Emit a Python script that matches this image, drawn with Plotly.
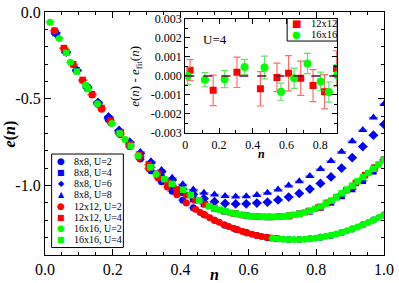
import plotly.graph_objects as go

# ---------------- data ----------------
# 8x8 lattice
n_8x8 = [0.03125, 0.0625, 0.09375, 0.125, 0.15625, 0.1875, 0.21875, 0.25,
         0.28125, 0.3125, 0.34375, 0.375, 0.40625, 0.4375, 0.46875, 0.5,
         0.53125, 0.5625, 0.59375, 0.625, 0.65625, 0.6875, 0.71875, 0.75,
         0.78125, 0.8125, 0.84375, 0.875, 0.90625, 0.9375, 0.96875, 1.0]
e_8x8_U2 = [-0.121, -0.233, -0.339, -0.438, -0.532, -0.620, -0.700, -0.775,
            -0.847, -0.915, -0.978, -1.033, -1.084, -1.128, -1.166, -1.200,
            -1.228, -1.252, -1.271, -1.287, -1.299, -1.306, -1.310, -1.311,
            -1.306, -1.298, -1.287, -1.270, -1.250, -1.225, -1.198, -1.170]
e_8x8_U4 = [-0.121, -0.232, -0.337, -0.435, -0.527, -0.613, -0.692, -0.765,
            -0.833, -0.895, -0.953, -1.000, -1.042, -1.078, -1.106, -1.130,
            -1.148, -1.162, -1.172, -1.178, -1.181, -1.180, -1.176, -1.163,
            -1.148, -1.126, -1.097, -1.060, -1.020, -0.972, -0.918, -0.852]
e_8x8_U6 = [-0.121, -0.231, -0.335, -0.432, -0.522, -0.606, -0.683, -0.752,
            -0.815, -0.868, -0.920, -0.968, -1.020, -1.050, -1.075, -1.093,
            -1.103, -1.106, -1.105, -1.101, -1.096, -1.083, -1.066, -1.045,
            -1.020, -0.988, -0.950, -0.900, -0.839, -0.775, -0.710, -0.648]
e_8x8_U8 = [-0.121, -0.231, -0.334, -0.430, -0.519, -0.602, -0.678, -0.745,
            -0.806, -0.860, -0.910, -0.955, -0.993, -1.022, -1.042, -1.052,
            -1.060, -1.063, -1.062, -1.055, -1.042, -1.023, -1.000, -0.975,
            -0.945, -0.905, -0.858, -0.805, -0.745, -0.680, -0.608, -0.530]

# 12x12 lattice
n_12_U2 = [0.028, 0.056, 0.083, 0.111, 0.139, 0.167, 0.194, 0.222, 0.250,
           0.278, 0.306, 0.333, 0.361, 0.389, 0.417, 0.444, 0.458, 0.472,
           0.486, 0.500, 0.514, 0.528, 0.542, 0.556, 0.569, 0.583, 0.597,
           0.611, 0.625, 0.639, 0.653, 0.667, 0.681]
e_12_U2 = [-0.108, -0.209, -0.303, -0.394, -0.478, -0.560, -0.638, -0.707, -0.775,
           -0.840, -0.902, -0.955, -1.008, -1.053, -1.100, -1.137, -1.155, -1.170,
           -1.186, -1.200, -1.212, -1.225, -1.236, -1.246, -1.255, -1.264, -1.273,
           -1.281, -1.287, -1.293, -1.298, -1.302, -1.305]
n_12_U4 = [0.028, 0.056, 0.083, 0.111, 0.139, 0.167, 0.194, 0.222, 0.250,
           0.278, 0.306, 0.333, 0.361, 0.389, 0.417, 0.444, 0.472, 0.500,
           0.528, 0.556, 0.583, 0.611, 0.639, 0.667, 0.694, 0.722, 0.750,
           0.778, 0.806, 0.833, 0.861, 0.889, 0.917, 0.944, 0.972, 1.000]
e_12_U4 = [-0.108, -0.208, -0.301, -0.391, -0.474, -0.553, -0.626, -0.695, -0.762,
           -0.823, -0.880, -0.932, -0.980, -1.022, -1.055, -1.085, -1.108, -1.130,
           -1.147, -1.160, -1.170, -1.177, -1.180, -1.181, -1.179, -1.172, -1.163,
           -1.147, -1.127, -1.099, -1.066, -1.027, -0.985, -0.940, -0.896, -0.852]

# 16x16 lattice
n_16_U2 = [0.0146, 0.042, 0.075, 0.120, 0.155, 0.197, 0.236, 0.275, 0.328,
           0.672, 0.688, 0.703, 0.719, 0.734, 0.750, 0.766, 0.781, 0.797,
           0.813, 0.828, 0.844, 0.859, 0.875, 0.891, 0.906, 0.922, 0.938,
           0.953, 0.969, 0.984, 1.000]
e_16_U2 = [-0.059, -0.152, -0.290, -0.420, -0.528, -0.643, -0.735, -0.828, -0.935,
           -1.303, -1.307, -1.309, -1.310, -1.311, -1.311, -1.309, -1.306, -1.303,
           -1.298, -1.292, -1.286, -1.279, -1.270, -1.261, -1.250, -1.238, -1.225,
           -1.213, -1.198, -1.184, -1.170]
n_16_U4 = [0.063, 0.094, 0.126, 0.220, 0.253, 0.311, 0.352, 0.374, 0.408,
           0.430, 0.455,
           0.484, 0.500, 0.516, 0.531, 0.547, 0.563, 0.578, 0.594, 0.609,
           0.625, 0.641, 0.656, 0.672, 0.688, 0.703, 0.719, 0.734, 0.750,
           0.766, 0.781, 0.797, 0.813, 0.828, 0.844, 0.859, 0.875, 0.891,
           0.906, 0.922, 0.938, 0.953, 0.969, 0.984, 1.000]
e_16_U4 = [-0.235, -0.343, -0.444, -0.700, -0.772, -0.894, -0.963, -0.990, -1.024,
           -1.055, -1.085,
           -1.118, -1.130, -1.139, -1.148, -1.156, -1.162, -1.168, -1.173, -1.176,
           -1.178, -1.180, -1.181, -1.181, -1.180, -1.178, -1.173, -1.168, -1.163,
           -1.155, -1.145, -1.134, -1.120, -1.104, -1.087, -1.068, -1.045, -1.023,
           -1.001, -0.976, -0.952, -0.928, -0.903, -0.878, -0.852]

# inset: deviation from fit, U=4
n_in_12 = [0.028, 0.165, 0.306, 0.445, 0.543, 0.612, 0.684, 0.757, 0.825, 0.896]
d_in_12 = [0.00030, -0.00076, 0.00019, -0.00068, -0.00008, 0.00014, -0.00012,
           -0.00051, -0.00083, 0.00039]
s_in_12 = [0.00055, 0.00080, 0.00080, 0.00090, 0.00075, 0.00093, 0.00090,
           0.00084, 0.00090, 0.00093]
n_in_16 = [0.014, 0.116, 0.233, 0.351, 0.469, 0.567, 0.645, 0.724, 0.802, 0.851, 0.900]
d_in_16 = [0.00000, -0.00020, -0.00017, 0.00047, 0.00044, -0.00083, -0.00012,
           0.00065, -0.00029, -0.00085, 0.00005]
s_in_16 = [0.00045, 0.00037, 0.00045, 0.00040, 0.00060, 0.00045, 0.00053,
           0.00053, 0.00049, 0.00053, 0.00055]

main_x_ticks = [0.0, 0.2, 0.4, 0.6, 0.8, 1.0]
main_x_text = ["0.0", "0.2", "0.4", "0.6", "0.8", "1.0"]
main_y_ticks = [0.0, -0.5, -1.0]
main_y_text = ["0.0", "-0.5", "-1.0"]
in_x_ticks = [0.0, 0.2, 0.4, 0.6, 0.8]
in_x_text = ["0", "0.2", "0.4", "0.6", "0.8"]
in_y_ticks = [0.003, 0.002, 0.001, 0.0, -0.001, -0.002, -0.003]
in_y_text = ["0.003", "0.002", "0.001", "0.000", "-0.001", "-0.002", "-0.003"]

legend_main = ["8x8, U=2", "8x8, U=4", "8x8, U=6", "8x8, U=8",
               "12x12, U=2", "12x12, U=4", "16x16, U=2", "16x16, U=4"]
legend_inset = ["12x12", "16x16"]

# ---------------- layout helpers ----------------
W, H = 399, 283
ML, MR, MT, MB = 45, 11, 5, 27
PW = W - ML - MR
PH = H - MT - MB


def px(x):
    return (x - ML) / PW


def py(y):
    return 1 - (y - MT) / PH


SERIF = "Liberation Serif"
BLUE, RED, GREEN = "#0000ff", "#ff0000", "#00ff00"
BLUE_E, RED_E, GREEN_E = "rgba(0,0,255,0.5)", "rgba(255,0,0,0.5)", "rgba(0,200,0,0.5)"
MAROON = "#670748"

fig = go.Figure()


def add_main(n, e, color, ecolor, symbol, size):
    fig.add_trace(go.Scatter(
        x=n, y=e, mode="markers", showlegend=False,
        marker=dict(color=color, symbol=symbol, size=size, line=dict(width=0)),
        error_x=dict(type="constant", value=0.014, color=ecolor, thickness=1.3, width=0),
        error_y=dict(type="constant", value=0.012, color=ecolor, thickness=1.3, width=0),
        xaxis="x", yaxis="y"))


add_main(n_8x8, e_8x8_U2, BLUE, BLUE_E, "circle", 7)
add_main(n_8x8, e_8x8_U4, BLUE, BLUE_E, "square", 6.5)
add_main(n_8x8, e_8x8_U6, BLUE, BLUE_E, "diamond", 7.5)
add_main(n_8x8, e_8x8_U8, BLUE, BLUE_E, "triangle-up", 8)
add_main(n_12_U2, e_12_U2, RED, RED_E, "circle", 7)
add_main(n_12_U4, e_12_U4, RED, RED_E, "square", 6.5)
add_main(n_16_U2, e_16_U2, GREEN, GREEN_E, "circle", 7)
add_main(n_16_U4, e_16_U4, GREEN, GREEN_E, "square", 6.5)

fig.add_trace(go.Scatter(
    x=n_in_12, y=d_in_12, mode="markers", showlegend=False,
    marker=dict(color=RED, symbol="square", size=7, line=dict(width=0)),
    error_y=dict(type="data", array=s_in_12, color="rgba(255,60,60,0.75)", thickness=1.2, width=3.5),
    xaxis="x2", yaxis="y2"))
fig.add_trace(go.Scatter(
    x=n_in_16, y=d_in_16, mode="markers", showlegend=False,
    marker=dict(color=GREEN, symbol="circle", size=8, line=dict(width=0)),
    error_y=dict(type="data", array=s_in_16, color="rgba(60,220,60,0.8)", thickness=1.2, width=3.5),
    xaxis="x2", yaxis="y2"))

axis_common = dict(showline=True, linecolor="black", linewidth=1.3, mirror="ticks",
                   ticks="inside", tickcolor="black", showgrid=False, zeroline=False)

fig.update_layout(
    width=W, height=H,
    margin=dict(l=ML, r=MR, t=MT, b=MB, pad=0),
    plot_bgcolor="white", paper_bgcolor="white",
    font=dict(family=SERIF, color="black"),
    showlegend=False,
    xaxis=dict(domain=[0, 1], range=[0, 1], anchor="y",
               tickmode="array", tickvals=main_x_ticks, ticktext=main_x_text,
               ticklen=6, tickwidth=1.2, tickfont=dict(size=16, family=SERIF),
               minor=dict(tickmode="linear", tick0=0, dtick=0.05, ticks="inside",
                          ticklen=3, tickcolor="black", tickwidth=1),
               **axis_common),
    yaxis=dict(domain=[0, 1], range=[-1.4, 0], anchor="x",
               tickmode="array", tickvals=main_y_ticks, ticktext=main_y_text,
               ticklen=6, tickwidth=1.2, tickfont=dict(size=16, family=SERIF),
               minor=dict(tickmode="linear", tick0=0, dtick=0.1, ticks="inside",
                          ticklen=3, tickcolor="black", tickwidth=1),
               **axis_common),
    xaxis2=dict(domain=[px(187), px(340.6)], range=[0, 0.9], anchor="y2",
                tickmode="array", tickvals=in_x_ticks, ticktext=in_x_text,
                ticklen=5, tickwidth=1, tickfont=dict(size=12, family=SERIF),
                minor=dict(tickmode="linear", tick0=0, dtick=0.1, ticks="inside",
                           ticklen=3, tickcolor="black", tickwidth=1),
                **axis_common),
    yaxis2=dict(domain=[py(130), py(12)], range=[-0.003, 0.003], anchor="x2",
                tickmode="array", tickvals=in_y_ticks, ticktext=in_y_text,
                ticklen=5, tickwidth=1, tickfont=dict(size=12, family=SERIF),
                minor=dict(tickmode="linear", tick0=0, dtick=0.0005, ticks="inside",
                           ticklen=3, tickcolor="black", tickwidth=1),
                **axis_common),
)

shapes = [
    # zero line in inset
    dict(type="line", xref="x2 domain", yref="y2", x0=0, x1=1, y0=0, y1=0,
         line=dict(color=MAROON, width=1.5, dash="dash")),
    # main legend box
    dict(type="rect", xref="paper", yref="paper",
         x0=px(51.7), x1=px(124.3), y0=py(248.3), y1=py(151.7),
         line=dict(color="black", width=1), fillcolor="white", layer="above"),
    # inset legend box
    dict(type="rect", xref="paper", yref="paper",
         x0=px(290), x1=px(340.6), y0=py(35), y1=py(11.7),
         line=dict(color="black", width=1), fillcolor="white", layer="above"),
]
fig.update_layout(shapes=shapes)

ann = []


def add_text(text, x, y, size, xanchor="center", angle=0, family=SERIF, color="black"):
    ann.append(dict(text=text, x=px(x), y=py(y), xref="paper", yref="paper",
                    showarrow=False, xanchor=xanchor, yanchor="middle",
                    textangle=angle, font=dict(size=size, family=family, color=color)))


add_text("<b><i>e</i>(<i>n</i>)</b>", 10, 131, 16, angle=-90)
add_text("<b><i>n</i></b>", 216, 276, 16)
add_text("<b><i>n</i></b>", 264, 151.5, 12)
add_text("<i>e</i>(<i>n</i>) - <i>e</i><sub>fit</sub>(<i>n</i>)", 137, 71, 13, angle=-90)
add_text("U=4", 217, 33, 13)

main_syms = ["●", "■", "◆", "▲", "●", "■", "●", "■"]
main_cols = [BLUE, BLUE, BLUE, BLUE, RED, RED, GREEN, GREEN]
main_sym_size = {"●": 9, "■": 8, "◆": 8, "▲": 8}
for i, (lab, s, c) in enumerate(zip(legend_main, main_syms, main_cols)):
    yy = 159 + 11.6 * i
    add_text(s, 61.5, yy, main_sym_size[s], family="DejaVu Sans", color=c)
    add_text(lab, 72.5, yy, 10, xanchor="left")

inset_syms = ["■", "●"]
inset_cols = [RED, GREEN]
for i, (lab, s, c) in enumerate(zip(legend_inset, inset_syms, inset_cols)):
    yy = 16.9 + 11.6 * i
    add_text(s, 299, yy, 10, family="DejaVu Sans", color=c)
    add_text(lab, 312.5, yy, 10.5, xanchor="left")

fig.update_layout(annotations=ann)

fig.write_html("out.html", config={"displayModeBar": False},
               post_script="document.body.style.margin='0px';document.body.style.padding='0px';")
